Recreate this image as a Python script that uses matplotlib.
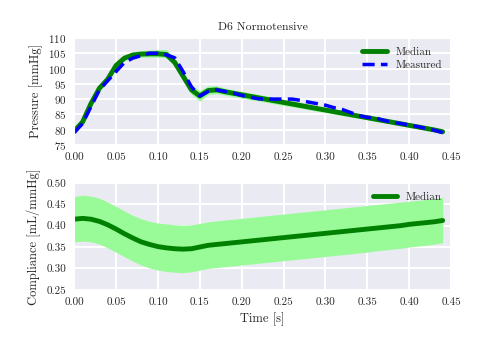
import numpy as np
import matplotlib
matplotlib.use('Agg')
import matplotlib.pyplot as plt
import seaborn as sns

sns.set_style('darkgrid')
plt.rcParams['font.family'] = ['serif']
plt.rcParams['font.serif'] = ['cmr10', 'DejaVu Serif']
plt.rcParams['axes.formatter.use_mathtext'] = True
plt.rcParams['mathtext.fontset'] = 'cm'
plt.rcParams['grid.linewidth'] = 1.5

# time grid (s)
t = [0.00, 0.01, 0.02, 0.03, 0.04, 0.05, 0.06, 0.07, 0.08, 0.09,
     0.10, 0.11, 0.12, 0.13, 0.14, 0.15, 0.16, 0.17, 0.18, 0.19,
     0.20, 0.21, 0.22, 0.23, 0.24, 0.25, 0.26, 0.27, 0.28, 0.29,
     0.30, 0.31, 0.32, 0.33, 0.34, 0.35, 0.36, 0.37, 0.38, 0.39,
     0.40, 0.41, 0.42, 0.43, 0.44]

# pressure [mmHg]
p_median = [79.5, 82.5, 88.5, 93.5, 96.5, 101.0, 103.4, 104.4, 104.7, 104.8,
            104.8, 104.6, 102.0, 97.5, 93.0, 91.0, 92.8, 93.0, 92.4, 91.9,
            91.4, 90.9, 90.4, 89.9, 89.4, 88.9, 88.4, 87.9, 87.4, 86.9,
            86.4, 85.9, 85.4, 84.9, 84.4, 83.9, 83.4, 82.9, 82.4, 81.9,
            81.4, 80.9, 80.4, 79.9, 79.3]
p_lower = [79.0, 82.0, 88.0, 93.0, 96.0, 100.3, 102.6, 103.5, 103.7, 103.7,
           103.7, 103.5, 100.8, 96.0, 91.5, 89.3, 91.5, 91.8, 91.3, 90.8,
           90.3, 89.8, 89.4, 88.9, 88.4, 87.9, 87.5, 87.0, 86.5, 86.0,
           85.6, 85.1, 84.6, 84.1, 83.7, 83.2, 82.7, 82.3, 81.8, 81.3,
           80.9, 80.4, 79.9, 79.5, 79.0]
p_upper = [80.0, 83.0, 89.0, 94.0, 97.0, 101.8, 104.3, 105.5, 105.9, 106.0,
           106.2, 106.2, 103.5, 99.0, 94.5, 92.8, 94.3, 94.3, 93.6, 93.0,
           92.5, 92.0, 91.5, 91.0, 90.4, 89.9, 89.4, 88.8, 88.3, 87.8,
           87.3, 86.7, 86.2, 85.7, 85.2, 84.6, 84.1, 83.6, 83.0, 82.5,
           82.0, 81.4, 80.9, 80.3, 79.7]
p_measured = [79.0, 82.0, 87.5, 93.0, 96.0, 99.0, 102.0, 103.4, 104.2, 105.0,
              105.0, 104.5, 103.5, 99.0, 94.0, 91.0, 92.5, 93.0, 92.5, 92.0,
              91.2, 90.6, 90.1, 90.0, 90.0, 90.0, 90.0, 89.6, 89.0, 88.5,
              88.0, 87.2, 86.6, 85.6, 84.6, 84.0, 83.8, 83.0, 82.4, 82.0,
              81.5, 81.0, 80.4, 79.8, 79.0]

# compliance [mL/mmHg]
c_median = [0.415, 0.417, 0.415, 0.410, 0.402, 0.392, 0.381, 0.371, 0.362, 0.356,
            0.351, 0.348, 0.346, 0.345, 0.346, 0.350, 0.354, 0.356, 0.358, 0.360,
            0.362, 0.364, 0.366, 0.368, 0.370, 0.372, 0.374, 0.376, 0.378, 0.380,
            0.382, 0.384, 0.386, 0.388, 0.390, 0.392, 0.394, 0.396, 0.398, 0.400,
            0.403, 0.405, 0.407, 0.409, 0.412]
c_lower = [0.362, 0.364, 0.362, 0.357, 0.348, 0.338, 0.327, 0.317, 0.308, 0.301,
           0.296, 0.293, 0.291, 0.290, 0.292, 0.296, 0.300, 0.302, 0.304, 0.306,
           0.308, 0.310, 0.312, 0.314, 0.316, 0.318, 0.320, 0.322, 0.324, 0.326,
           0.328, 0.330, 0.332, 0.334, 0.336, 0.338, 0.341, 0.343, 0.345, 0.347,
           0.350, 0.352, 0.354, 0.357, 0.360]
c_upper = [0.468, 0.471, 0.469, 0.464, 0.455, 0.445, 0.434, 0.424, 0.416, 0.410,
           0.406, 0.404, 0.402, 0.401, 0.402, 0.405, 0.409, 0.411, 0.413, 0.415,
           0.417, 0.419, 0.421, 0.423, 0.425, 0.427, 0.429, 0.431, 0.433, 0.435,
           0.437, 0.439, 0.441, 0.443, 0.445, 0.447, 0.449, 0.451, 0.453, 0.455,
           0.457, 0.459, 0.461, 0.463, 0.466]

xticks = [0.00, 0.05, 0.10, 0.15, 0.20, 0.25, 0.30, 0.35, 0.40, 0.45]
c_ticks = [0.25, 0.30, 0.35, 0.40, 0.45, 0.50]

fig = plt.figure(figsize=(4.85, 3.45), dpi=100)
ax1 = fig.add_axes([0.153, 0.58, 0.777, 0.31])
ax2 = fig.add_axes([0.153, 0.16, 0.777, 0.31])

# pressure panel
ax1.fill_between(t, p_lower, p_upper, color='palegreen', lw=0)
ax1.plot(t, p_median, color='green', lw=3.5, label='Median')
ax1.plot(t, p_measured, color='blue', lw=2.5, ls=(0, (3.5, 1.8)), label='Measured')
ax1.set_xlim(0, 0.45)
ax1.set_ylim(75, 110)
ax1.set_xticks(xticks)
ax1.set_xticklabels(['%.2f' % v for v in xticks])
ax1.set_yticks(range(75, 111, 5))
ax1.set_ylabel('Pressure [mmHg]', fontsize=9)
ax1.set_title('D6 Normotensive', fontsize=8.5)
ax1.legend(loc='upper right', fontsize=8, frameon=False, handlelength=2.2,
           borderaxespad=0.4, labelspacing=0.3)

# compliance panel
ax2.fill_between(t, c_lower, c_upper, color='palegreen', lw=0)
ax2.plot(t, c_median, color='green', lw=3.5, label='Median')
ax2.set_xlim(0, 0.45)
ax2.set_ylim(0.25, 0.50)
ax2.set_xticks(xticks)
ax2.set_xticklabels(['%.2f' % v for v in xticks])
ax2.set_yticks(c_ticks)
ax2.set_yticklabels(['%.2f' % v for v in c_ticks])
ax2.set_ylabel('Compliance [mL/mmHg]', fontsize=9)
ax2.set_xlabel('Time [s]', fontsize=9)
ax2.legend(loc='upper right', fontsize=8, frameon=False, handlelength=2.2,
           borderaxespad=0.4)

for ax in (ax1, ax2):
    ax.tick_params(labelsize=8, pad=2)

fig.savefig('out.png', dpi=100)
